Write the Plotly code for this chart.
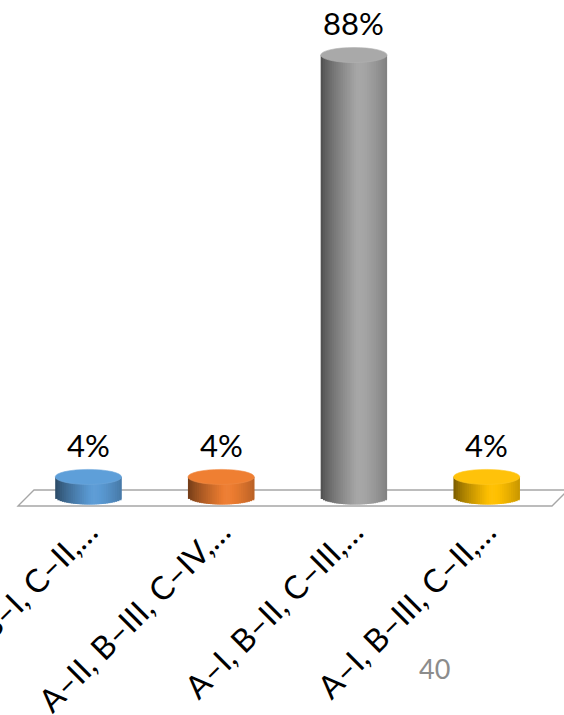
import plotly.graph_objects as go

# Answer options and share of responses (%)
categories = ["A–III, B–I, C–II,…", "A–II, B–III, C–IV,…", "A–I, B–II, C–III,…", "A–I, B–III, C–II,…"]
values = [4, 4, 88, 4]
base_colors = ["#5b9bd5", "#ed7d31", "#a5a5a5", "#ffc000"]
top_colors = ["#5e9fd9", "#ef7f32", "#a9a9a9", "#ffc20a"]
page_label = "40"

W, H = 564, 715
FONT = "Lato"

# page layout (pixels)
ML, MR, MT, MB = 22, 11, 40, 209
plot_w = W - ML - MR
plot_h = H - MT - MB
zero_px = 497                      # pixel row of the value 0
unit_px = (zero_px - 55) / 88.0    # pixels per percentage point
y_top = (zero_px - MT) / unit_px
y_bot = -((H - MB) - zero_px) / unit_px

BAR_W = 0.5          # bar width in category units
N_STRIPS = 30        # vertical strips used to shade each cylinder
ELL_PX = 7.5         # half-height of the elliptical caps, pixels
ell_units = ELL_PX / unit_px


def shade(hex_color, f):
    h = hex_color.lstrip("#")
    r, g, b = (int(h[i:i + 2], 16) for i in (0, 2, 4))
    if f <= 1:
        r, g, b = r * f, g * f, b * f
    else:
        k = f - 1
        r, g, b = r + (255 - r) * k, g + (255 - g) * k, b + (255 - b) * k
    return "rgb(%d,%d,%d)" % (max(0, min(255, r)), max(0, min(255, g)), max(0, min(255, b)))


def brightness(t):
    # cylinder lit from the front-right: dark left edge, highlight a little right of centre
    peak = 0.57
    if t < peak:
        return 0.46 + (1.03 - 0.46) * (t / peak) ** 0.75
    return 1.03 - (1.03 - 0.78) * ((t - peak) / (1 - peak)) ** 1.4


xs = list(range(len(categories)))
fig = go.Figure()

strip_w = BAR_W / N_STRIPS
for i in range(N_STRIPS):
    t = (i + 0.5) / N_STRIPS
    u = 2 * t - 1
    drop = ell_units * (max(0.0, 1 - u * u)) ** 0.5
    # each strip reaches under its right neighbour so no seams show
    w = strip_w * (2.0 if i < N_STRIPS - 1 else 1.0)
    fig.add_trace(go.Bar(
        x=xs,
        y=[v + drop for v in values],
        base=[-drop] * len(values),
        width=w,
        offset=-BAR_W / 2 + i * strip_w,
        marker=dict(color=[shade(c, brightness(t)) for c in base_colors], line_width=0),
        hoverinfo="skip",
        showlegend=False,
    ))

shapes = []


# floor plane under the bars (pixel corners converted to paper units)
def px_x(p):
    return (p - ML) / plot_w


def px_y(p):
    return ((H - MB) - p) / plot_h


floor = [(18, 506), (34, 490), (568, 490), (552, 506)]
path = "M " + " L ".join("%f,%f" % (px_x(a), px_y(b)) for a, b in floor) + " Z"
shapes.append(dict(type="path", path=path, xref="paper", yref="paper",
                   fillcolor="white", line=dict(color="#a6a6a6", width=1.3), layer="below"))

# elliptical tops of the cylinders
for x, v, c in zip(xs, values, top_colors):
    shapes.append(dict(type="circle", xref="x", yref="y",
                       x0=x - BAR_W / 2, x1=x + BAR_W / 2,
                       ysizemode="pixel", yanchor=v, y0=-ELL_PX, y1=ELL_PX,
                       fillcolor=c, line=dict(color=shade(c, 1.1), width=0.6), layer="above"))

annotations = []
for x, v in zip(xs, values):
    annotations.append(dict(x=x, y=v, xref="x", yref="y", text=f"{v}%", showarrow=False,
                            yshift=32, font=dict(family=FONT, size=31, color="#000000")))

annotations.append(dict(x=px_x(434), y=px_y(668), xref="paper", yref="paper", text=page_label,
                        xanchor="center", yanchor="middle",
                        showarrow=False, font=dict(family=FONT, size=27, color="#8c8c8c")))

fig.update_layout(
    width=W, height=H,
    margin=dict(l=ML, r=MR, t=MT, b=MB, pad=0),
    paper_bgcolor="white", plot_bgcolor="rgba(0,0,0,0)",
    barmode="overlay",
    shapes=shapes,
    annotations=annotations,
    template="none",
    xaxis=dict(range=[-0.5, len(categories) - 0.5], tickvals=xs, ticktext=categories,
               tickangle=-45, showgrid=False, zeroline=False, showline=False, ticks="",
               automargin=False, ticklabeloverflow="allow",
               tickfont=dict(family=FONT, size=32, color="#000000")),
    yaxis=dict(range=[y_bot, y_top], visible=False, automargin=False),
)

fig.write_html("out.html")
